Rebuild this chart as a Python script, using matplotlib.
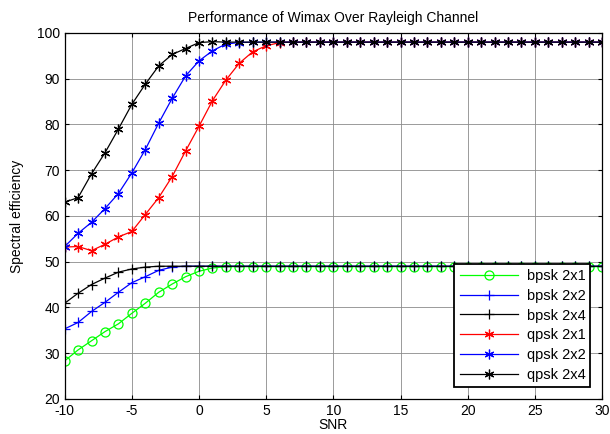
import numpy as np
import matplotlib
matplotlib.use("Agg")
import matplotlib.pyplot as plt

plt.rcParams['font.family'] = ['Liberation Sans', 'DejaVu Sans']
plt.rcParams['axes.unicode_minus'] = False

snr = np.arange(-10, 31)

# values, plateau filled with the saturated value
bpsk_2x1 = [28.3, 30.7, 32.7, 34.7, 36.4, 38.7, 40.9, 43.3, 45.1, 46.7, 47.9, 48.6, 48.9]
bpsk_2x2 = [35.3, 36.7, 39.1, 41.1, 43.3, 45.4, 46.7, 48.1, 48.8, 49.0]
bpsk_2x4 = [40.9, 43.1, 45.0, 46.4, 47.7, 48.4, 48.8, 49.0]
qpsk_2x1 = [53.2, 53.3, 52.4, 53.8, 55.4, 56.6, 60.3, 64.0, 68.6, 74.2, 79.6, 85.2, 89.7,
            93.4, 95.9, 97.2, 97.9, 98.0]
qpsk_2x2 = [53.3, 56.2, 58.6, 61.6, 64.9, 69.4, 74.5, 80.3, 85.7, 90.6, 93.9, 96.1, 97.6,
            97.9, 98.0]
qpsk_2x4 = [63.0, 64.0, 69.2, 73.8, 79.0, 84.4, 88.8, 92.8, 95.3, 96.6, 97.9, 98.1, 98.0]


def pad(vals, n=len(snr)):
    return vals + [vals[-1]] * (n - len(vals))


series = [
    ("bpsk 2x1", bpsk_2x1, "#00ff00", "o"),
    ("bpsk 2x2", bpsk_2x2, "#0000ff", "+"),
    ("bpsk 2x4", bpsk_2x4, "#000000", "+"),
    ("qpsk 2x1", qpsk_2x1, "#ff0000", (6, 2, 0)),
    ("qpsk 2x2", qpsk_2x2, "#0000ff", (6, 2, 0)),
    ("qpsk 2x4", qpsk_2x4, "#000000", (6, 2, 0)),
]

fig = plt.figure(figsize=(6.1, 4.34), dpi=100)
ax = fig.add_axes([0.106, 0.081, 0.881, 0.843])

for name, vals, col, mk in series:
    ms = 6.5 if mk == "o" else 7
    ax.plot(snr, pad(vals), color=col, marker=mk, markersize=ms, linewidth=0.9,
            markerfacecolor='none', markeredgecolor=col, markeredgewidth=0.9, label=name)

ax.set_xlim(-10, 30)
ax.set_ylim(20, 100)
ax.set_xticks(np.arange(-10, 31, 5))
ax.set_yticks(np.arange(20, 101, 10))
ax.grid(True, color='#8a8a8a', linewidth=0.6)
ax.tick_params(direction='in', labelsize=10, length=3, top=True, right=True)
ax.tick_params(axis='x', pad=4)
ax.set_title("Performance of Wimax Over Rayleigh Channel", fontsize=10, pad=8)
ax.set_xlabel("SNR", fontsize=10, labelpad=0)
ax.set_ylabel("Spectral efficiency", fontsize=10, labelpad=9)
for s in ax.spines.values():
    s.set_linewidth(0.9)

leg = ax.legend(loc='lower right', fontsize=10.5, fancybox=False, framealpha=1,
                edgecolor='black', borderpad=0.35, handlelength=4.0, labelspacing=0.4,
                handletextpad=0.6, bbox_to_anchor=(0.992, 0.012))
leg.get_frame().set_linewidth(1.3)

fig.savefig("out.png", dpi=100)
